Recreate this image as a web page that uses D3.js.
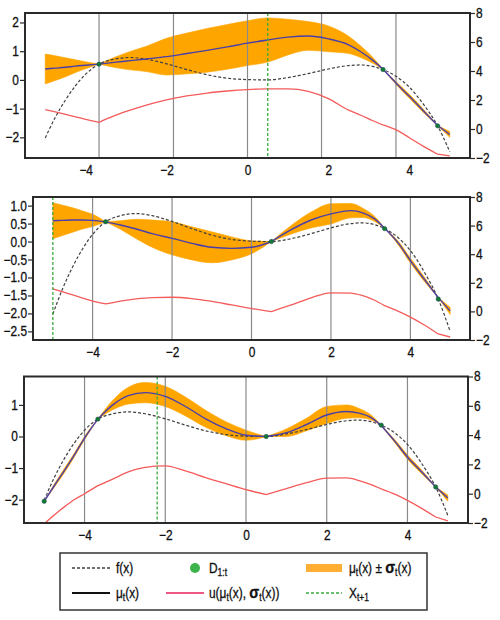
<!DOCTYPE html>
<html><head><meta charset="utf-8">
<script src="https://cdn.jsdelivr.net/npm/d3@7"></script>
<style>
body{margin:0;background:#fff;}
text{font-family:"Liberation Sans",Arial,sans-serif;stroke:#111;stroke-width:0.3px;}
</style></head>
<body>
<svg id="chart" width="500" height="620"></svg>
<script>
// ---- data ----
const X  = [-5,-4.75,-4.5,-4.25,-4,-3.67,-3.3,-2.9,-2.5,-2,-1.5,-1,-0.5,0,0.5,1,1.5,2,2.5,2.8,3.1,3.35,3.7,4,4.35,4.7,5];
const F  = [-2.02,-1.3,-0.7,-0.2,0.2,0.55,0.72,0.78,0.72,0.56,0.36,0.18,0.06,0.01,0.0,0.08,0.22,0.38,0.5,0.52,0.47,0.36,0.1,-0.25,-0.85,-1.6,-2.5];

const MU1 = [0.38,0.41,0.44,0.48,0.51,0.55,0.61,0.67,0.73,0.81,0.92,1.03,1.15,1.28,1.39,1.49,1.53,1.43,1.22,0.98,0.68,0.37,-0.15,-0.57,-1.08,-1.59,-1.9];
const SD1 = [0.52,0.43,0.33,0.22,0.12,0,0.17,0.32,0.44,0.64,0.71,0.76,0.78,0.78,0.77,0.62,0.5,0.45,0.3,0.2,0.1,0,0.05,0.07,0.06,0,0.1];
const U1  = [1.34,1.18,1.01,0.84,0.67,0.46,0.9,1.3,1.65,2.01,2.28,2.48,2.62,2.72,2.77,2.77,2.6,2.1,1.3,0.95,0.57,0.28,-0.1,-0.6,-1.2,-1.74,-1.85];
const OBS1 = [-3.67,3.35,4.7];
const OBSY1 = [0.55,0.36,-1.6];
const NEXT1 = 0.5;
const VLINES1 = [-3.67,-1.83,0,1.83,3.67];

const MU2 = [0.58,0.59,0.6,0.6,0.59,0.55,0.46,0.35,0.22,0.09,-0.05,-0.16,-0.19,-0.16,0.0,0.33,0.6,0.77,0.86,0.8,0.63,0.37,-0.05,-0.53,-1.05,-1.56,-1.93];
const SD2 = [0.5,0.42,0.34,0.25,0.17,0,0.12,0.27,0.38,0.46,0.46,0.43,0.32,0.18,0,0.12,0.22,0.28,0.2,0.13,0.07,0,0.05,0.07,0.06,0,0.1];
const U2  = [1.58,1.37,1.15,0.93,0.72,0.52,0.72,0.88,0.97,0.99,0.9,0.7,0.45,0.2,-0.02,0.45,0.95,1.3,1.28,1.1,0.78,0.4,0.0,-0.4,-0.95,-1.58,-1.79];
const OBS2 = [-3.67,0.5,3.35,4.7];
const OBSY2 = [0.55,0.0,0.36,-1.6];
const NEXT2 = -5;
const VLINES2 = [-4,-2,0,2,4];

const MU3 = [-2.05,-1.56,-1.08,-0.58,-0.05,0.55,1.0,1.3,1.39,1.27,0.95,0.56,0.25,0.04,0.0,0.12,0.38,0.68,0.79,0.74,0.6,0.35,-0.17,-0.65,-1.12,-1.6,-1.95];
const SD3 = [0,0.05,0.07,0.06,0.05,0,0.15,0.27,0.32,0.32,0.3,0.27,0.22,0.16,0,0.12,0.2,0.27,0.21,0.15,0.08,0,0.05,0.07,0.06,0,0.1];
const U3  = [-2.05,-1.45,-0.9,-0.4,0.0,0.55,1.0,1.5,1.8,1.9,1.55,1.1,0.68,0.27,-0.06,0.35,0.75,1.07,1.08,0.9,0.62,0.33,-0.05,-0.46,-1.0,-1.59,-1.86];
const OBS3 = [-5,-3.67,0.5,3.35,4.7];
const OBSY3 = [-2.05,0.55,0.0,0.36,-1.6];
const NEXT3 = -2.2;
const VLINES3 = [-4,-2,0,2,4];

const XTICKS = [-4,-2,0,2,4];
const RTICKS = [-2,0,2,4,6,8];
const LTICKS1 = [-2,-1,0,1,2];
const LTICKS2 = [-2.5,-2,-1.5,-1,-0.5,0,0.5,1.0];
const LTICKS3 = [-2,-1,0,1];

const LEG_ROW1 = ["f(x)","D","μ"];
const LEG_ROW2 = ["μ","u(μ","X"];

// ---- layout ----
const SX = 0.85; // horizontal condensing of text
const panels = [
  {mu:MU1,sd:SD1,u:U1,obs:OBS1,obsy:OBSY1,next:NEXT1,vl:VLINES1,lt:LTICKS1,ld:[-2.72,2.33],fmt:d3.format("d"),box:{l:25,r:470,t:13,b:158}},
  {mu:MU2,sd:SD2,u:U2,obs:OBS2,obsy:OBSY2,next:NEXT2,vl:VLINES2,lt:LTICKS2,ld:[-2.74,1.24],fmt:d3.format(".1f"),box:{l:33,r:470,t:197,b:340}},
  {mu:MU3,sd:SD3,u:U3,obs:OBS3,obsy:OBSY3,next:NEXT3,vl:VLINES3,lt:LTICKS3,ld:[-2.74,1.90],fmt:d3.format("d"),box:{l:24,r:468,t:376.5,b:523}}
];

const svg = d3.select("#chart");
svg.append("rect").attr("width",500).attr("height",620).attr("fill","#fff");

function segments(ys, breaks){
  const out=[]; let cur=[];
  X.forEach((x,i)=>{
    cur.push(i);
    if(i>0 && i<X.length-1 && breaks.some(b=>Math.abs(b-x)<1e-6)){ out.push(cur); cur=[i]; }
  });
  out.push(cur); return out;
}

panels.forEach((p,k)=>{
  const b=p.box;
  const x=d3.scaleLinear().domain([-5.5,5.5]).range([b.l,b.r]);
  const yl=d3.scaleLinear().domain(p.ld).range([b.b,b.t]);
  const yr=d3.scaleLinear().domain([-2,8]).range([b.b,b.t]);
  const g=svg.append("g");
  const cid="clip"+k;
  svg.append("clipPath").attr("id",cid).append("rect").attr("x",b.l).attr("y",b.t).attr("width",b.r-b.l).attr("height",b.b-b.t);
  const pg=g.append("g").attr("clip-path",`url(#${cid})`);
  const segs=segments(p.mu,p.obs);

  const area=d3.area().x(i=>x(X[i])).y0(i=>yl(p.mu[i]-p.sd[i])).y1(i=>yl(p.mu[i]+p.sd[i])).curve(d3.curveMonotoneX);
  pg.append("path").attr("d",segs.map(s=>area(s)).join("")).attr("fill","#ffa500").attr("stroke","#ffa500").attr("stroke-width",0.6);

  pg.selectAll(".vl").data(p.vl).join("line").attr("x1",d=>x(d)).attr("x2",d=>x(d)).attr("y1",b.t).attr("y2",b.b)
    .attr("stroke","#8a8a8a").attr("stroke-width",1.2);

  const lineL=ys=>d3.line().x(i=>x(X[i])).y(i=>yl(ys[i])).curve(d3.curveMonotoneX);
  const lineR=ys=>d3.line().x(i=>x(X[i])).y(i=>yr(ys[i])).curve(d3.curveMonotoneX);
  const fsegs=segments(F,[]);
  pg.append("path").attr("d",fsegs.map(s=>lineL(F)(s)).join("")).attr("fill","none").attr("stroke","#404040").attr("stroke-width",1.2).attr("stroke-dasharray","3,2");
  pg.append("path").attr("d",segs.map(s=>lineL(p.mu)(s)).join("")).attr("fill","none").attr("stroke","#4a3fa8").attr("stroke-width",1.4);
  pg.append("path").attr("d",segs.map(s=>lineR(p.u)(s)).join("")).attr("fill","none").attr("stroke","#f45b5b").attr("stroke-width",1.3);
  pg.append("line").attr("x1",x(p.next)).attr("x2",x(p.next)).attr("y1",b.t).attr("y2",b.b)
    .attr("stroke","#3aaa3a").attr("stroke-width",1.3).attr("stroke-dasharray","3,2");
  pg.selectAll(".ob").data(p.obs).join("circle").attr("cx",d=>x(d)).attr("cy",(d,i)=>yl(p.obsy[i])).attr("r",2.2)
    .attr("fill","#137a35").attr("stroke","#1a4a50").attr("stroke-width",0.5);

  g.append("rect").attr("x",b.l).attr("y",b.t).attr("width",b.r-b.l).attr("height",b.b-b.t)
    .attr("fill","none").attr("stroke","#2a2a2a").attr("stroke-width",2);

  const ax=g.append("g").attr("transform",`translate(0,${b.b})`).call(d3.axisBottom(x).tickValues(XTICKS).tickSize(0).tickPadding(7).tickFormat(d3.format("d")));
  const axl=g.append("g").attr("transform",`translate(${b.l},0)`).call(d3.axisLeft(yl).tickValues(p.lt).tickSize(5).tickPadding(1).tickFormat(p.fmt));
  const axr=g.append("g").attr("transform",`translate(${b.r},0)`).call(d3.axisRight(yr).tickValues(RTICKS).tickSize(5).tickPadding(1).tickFormat(d3.format("d")));
  [ax,axl,axr].forEach(a=>{
    a.select(".domain").remove();
    a.selectAll(".tick line").attr("stroke","#2a2a2a").attr("stroke-width",1.2);
    a.selectAll(".tick text").each(function(){
      const t=d3.select(this); const tx=+t.attr("x")||0, ty=+t.attr("y")||0;
      t.attr("x",0).attr("y",0).attr("transform",`translate(${tx},${ty}) scale(${SX},1)`)
       .attr("font-size",14).attr("fill","#111").style("font-family",'"Liberation Sans",Arial,sans-serif');
    });
  });
});

// ---- legend ----
const lg=svg.append("g");
lg.append("rect").attr("x",60).attr("y",553).attr("width",367).attr("height",57).attr("fill","#fff").attr("stroke","#333").attr("stroke-width",1.5);
const r1=568, r2=593, fs=14;
function txt(xp,yp){return lg.append("text").attr("transform",`translate(${xp},${yp}) scale(${SX},1)`).attr("dy","0.35em").attr("font-size",fs).attr("fill","#111");}
lg.append("line").attr("x1",72).attr("x2",110).attr("y1",r1).attr("y2",r1).attr("stroke","#404040").attr("stroke-width",1.4).attr("stroke-dasharray","3,2");
txt(116,r1).text(LEG_ROW1[0]);
lg.append("circle").attr("cx",195).attr("cy",r1).attr("r",5).attr("fill","#3cb44b");
{const t=txt(209,r1); t.append("tspan").text(LEG_ROW1[1]); t.append("tspan").attr("font-size",10).attr("dy",3).text("1:t");}
lg.append("rect").attr("x",306).attr("y",r1-4).attr("width",36).attr("height",8).attr("fill","#ffae34");
{const t=txt(349,r1); t.append("tspan").text(LEG_ROW1[2]); t.append("tspan").attr("font-size",10).attr("dy",3).text("t");
 t.append("tspan").attr("dy",-3).text("(x) ± "); t.append("tspan").attr("font-size",17).attr("font-weight","bold").text("σ");
 t.append("tspan").attr("font-size",10).attr("dy",3).text("t"); t.append("tspan").attr("dy",-3).text("(x)");}
lg.append("line").attr("x1",72).attr("x2",110).attr("y1",r2).attr("y2",r2).attr("stroke","#111").attr("stroke-width",2);
{const t=txt(116,r2); t.append("tspan").text(LEG_ROW2[0]); t.append("tspan").attr("font-size",10).attr("dy",3).text("t"); t.append("tspan").attr("dy",-3).text("(x)");}
lg.append("line").attr("x1",166).attr("x2",204).attr("y1",r2).attr("y2",r2).attr("stroke","#e8205a").attr("stroke-width",1.6);
{const t=txt(209,r2); t.append("tspan").text(LEG_ROW2[1]); t.append("tspan").attr("font-size",10).attr("dy",3).text("t");
 t.append("tspan").attr("dy",-3).text("(x), "); t.append("tspan").attr("font-size",17).attr("font-weight","bold").text("σ");
 t.append("tspan").attr("font-size",10).attr("dy",3).text("t"); t.append("tspan").attr("dy",-3).text("(x))");}
lg.append("line").attr("x1",306).attr("x2",342).attr("y1",r2).attr("y2",r2).attr("stroke","#3aaa3a").attr("stroke-width",1.4).attr("stroke-dasharray","3,2");
{const t=txt(349,r2); t.append("tspan").text(LEG_ROW2[2]); t.append("tspan").attr("font-size",10).attr("dy",3).text("t+1");}
</script>
</body></html>
